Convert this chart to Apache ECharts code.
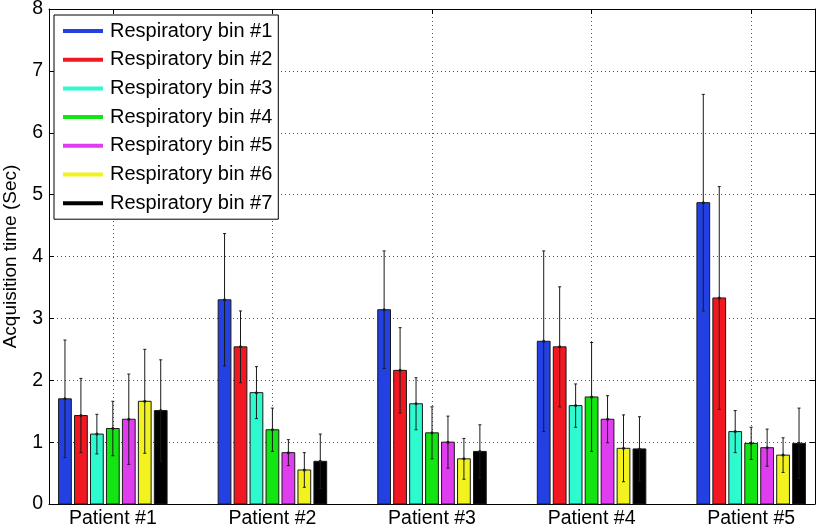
<!DOCTYPE html>
<html>
<head>
<meta charset="utf-8">
<script src="https://cdn.jsdelivr.net/npm/echarts@6/dist/echarts.min.js"></script>
<style>html,body{margin:0;padding:0;background:#fff}#c{width:819px;height:528px}</style>
</head>
<body>
<div id="c"></div>
<script>
const categories = ['Patient #1', 'Patient #2', 'Patient #3', 'Patient #4', 'Patient #5'];
const binNames = ['Respiratory bin #1', 'Respiratory bin #2', 'Respiratory bin #3', 'Respiratory bin #4', 'Respiratory bin #5', 'Respiratory bin #6', 'Respiratory bin #7'];
const binColors = ['#2341e3', '#f21822', '#2dfbcf', '#12e512', '#e03cf0', '#f2f21e', '#000000'];
const yTicks = [0, 1, 2, 3, 4, 5, 6, 7, 8];

const bin1 = [1.70, 3.30, 3.14, 2.63, 4.87];
const bin2 = [1.43, 2.54, 2.16, 2.54, 3.33];
const bin3 = [1.13, 1.80, 1.62, 1.59, 1.17];
const bin4 = [1.22, 1.20, 1.15, 1.73, 0.98];
const bin5 = [1.37, 0.83, 1.00, 1.37, 0.91];
const bin6 = [1.66, 0.55, 0.73, 0.90, 0.79];
const bin7 = [1.51, 0.69, 0.85, 0.89, 0.98];

const err1 = [0.95, 1.07, 0.95, 1.46, 1.75];
const err2 = [0.60, 0.58, 0.69, 0.97, 1.80];
const err3 = [0.32, 0.42, 0.42, 0.35, 0.34];
const err4 = [0.44, 0.35, 0.42, 0.88, 0.26];
const err5 = [0.73, 0.21, 0.42, 0.38, 0.30];
const err6 = [0.84, 0.28, 0.33, 0.54, 0.28];
const err7 = [0.82, 0.44, 0.43, 0.52, 0.57];

const binValues = [bin1, bin2, bin3, bin4, bin5, bin6, bin7];
const binErrors = [err1, err2, err3, err4, err5, err6, err7];

const FONT = '"Liberation Sans", Arial, sans-serif';
const catPos = categories.map((c, i) => i + 1);
const BAR_STEP = 0.1;
const BAR_W = 0.08;

const chart = echarts.init(document.getElementById('c'), null, {renderer: 'canvas'});

const series = binNames.map((name, si) => ({
  name: name,
  type: 'custom',
  itemStyle: {color: binColors[si]},
  data: binValues[si].map((v, ci) => [catPos[ci], v, binErrors[si][ci]]),
  encode: {x: 0, y: 1},
  renderItem: function (params, api) {
    const x = api.value(0) + (si - 3) * BAR_STEP;
    const y = api.value(1);
    const e = api.value(2);
    const base = api.coord([x, 0]);
    const top = api.coord([x, y]);
    const hi = api.coord([x, y + e]);
    const lo = api.coord([x, y - e]);
    const w = api.size([BAR_W, 0])[0];
    return {
      type: 'group',
      children: [
        {type: 'rect', shape: {x: base[0] - w / 2, y: top[1], width: w, height: base[1] - top[1]},
         style: {fill: binColors[si], stroke: '#1a1a1a', lineWidth: 1}},
        {type: 'line', shape: {x1: top[0], y1: hi[1], x2: top[0], y2: lo[1]},
         style: {stroke: '#1a1a1a', lineWidth: 1}},
        {type: 'line', shape: {x1: top[0] - 1.5, y1: hi[1], x2: top[0] + 1.5, y2: hi[1]},
         style: {stroke: '#1a1a1a', lineWidth: 1}},
        {type: 'line', shape: {x1: top[0] - 1.5, y1: lo[1], x2: top[0] + 1.5, y2: lo[1]},
         style: {stroke: '#1a1a1a', lineWidth: 1}},
        {type: 'circle', shape: {cx: top[0], cy: top[1], r: 1.5},
         style: {fill: '#1a1a1a'}}
      ]
    };
  }
}));

const dotted = {show: true, lineStyle: {color: '#555', type: [1, 3], width: 1}};

const option = {
  animation: false,
  backgroundColor: '#fff',
  textStyle: {fontFamily: FONT},
  grid: {left: 49, right: 4, top: 9, bottom: 24, containLabel: false, outerBoundsMode: 'none'},
  legend: {
    orient: 'vertical',
    left: 54,
    top: 15,
    data: binNames,
    backgroundColor: '#fff',
    borderColor: '#000',
    borderWidth: 1,
    padding: [6, 6, 6, 9],
    itemGap: 8.7,
    itemWidth: 40,
    itemHeight: 4,
    icon: 'rect',
    itemStyle: {borderWidth: 0},
    textStyle: {fontFamily: FONT, fontSize: 20, color: '#000', lineHeight: 20, padding: [0, 0, 0, 2]}
  },
  xAxis: [{
    type: 'value', min: 0.6, max: 5.4,
    axisLine: {show: true, onZero: false, lineStyle: {color: '#000', width: 1}},
    axisTick: {show: true, inside: true, length: 5, customValues: catPos, lineStyle: {color: '#000'}},
    axisLabel: {
      customValues: catPos, color: '#000', fontSize: 19.5, fontFamily: FONT, margin: 5,
      formatter: function (v) { const i = Math.round(v); return Math.abs(v - i) < 1e-6 && i >= 1 && i <= categories.length ? categories[i - 1] : ''; }
    },
    splitLine: dotted
  }, {
    type: 'value', min: 0.6, max: 5.4, position: 'top',
    axisLine: {show: true, onZero: false, lineStyle: {color: '#000', width: 1}},
    axisTick: {show: true, inside: true, length: 5, customValues: catPos, lineStyle: {color: '#000'}},
    axisLabel: {show: false},
    splitLine: {show: false}
  }],
  yAxis: [{
    type: 'value', min: yTicks[0], max: yTicks[yTicks.length - 1], interval: 1,
    name: 'Acquisition time (Sec)', nameLocation: 'middle', nameGap: 29,
    nameTextStyle: {fontSize: 19, color: '#000', fontFamily: FONT},
    axisLine: {show: true, lineStyle: {color: '#000', width: 1}},
    axisTick: {show: true, inside: true, length: 5, lineStyle: {color: '#000'}},
    axisLabel: {color: '#000', fontSize: 19.5, fontFamily: FONT, margin: 6},
    splitLine: dotted
  }, {
    type: 'value', min: yTicks[0], max: yTicks[yTicks.length - 1], interval: 1, position: 'right',
    axisLine: {show: true, lineStyle: {color: '#000', width: 1}},
    axisTick: {show: true, inside: true, length: 5, lineStyle: {color: '#000'}},
    axisLabel: {show: false},
    splitLine: {show: false}
  }],
  series: series
};
chart.setOption(option);
</script>
</body>
</html>
